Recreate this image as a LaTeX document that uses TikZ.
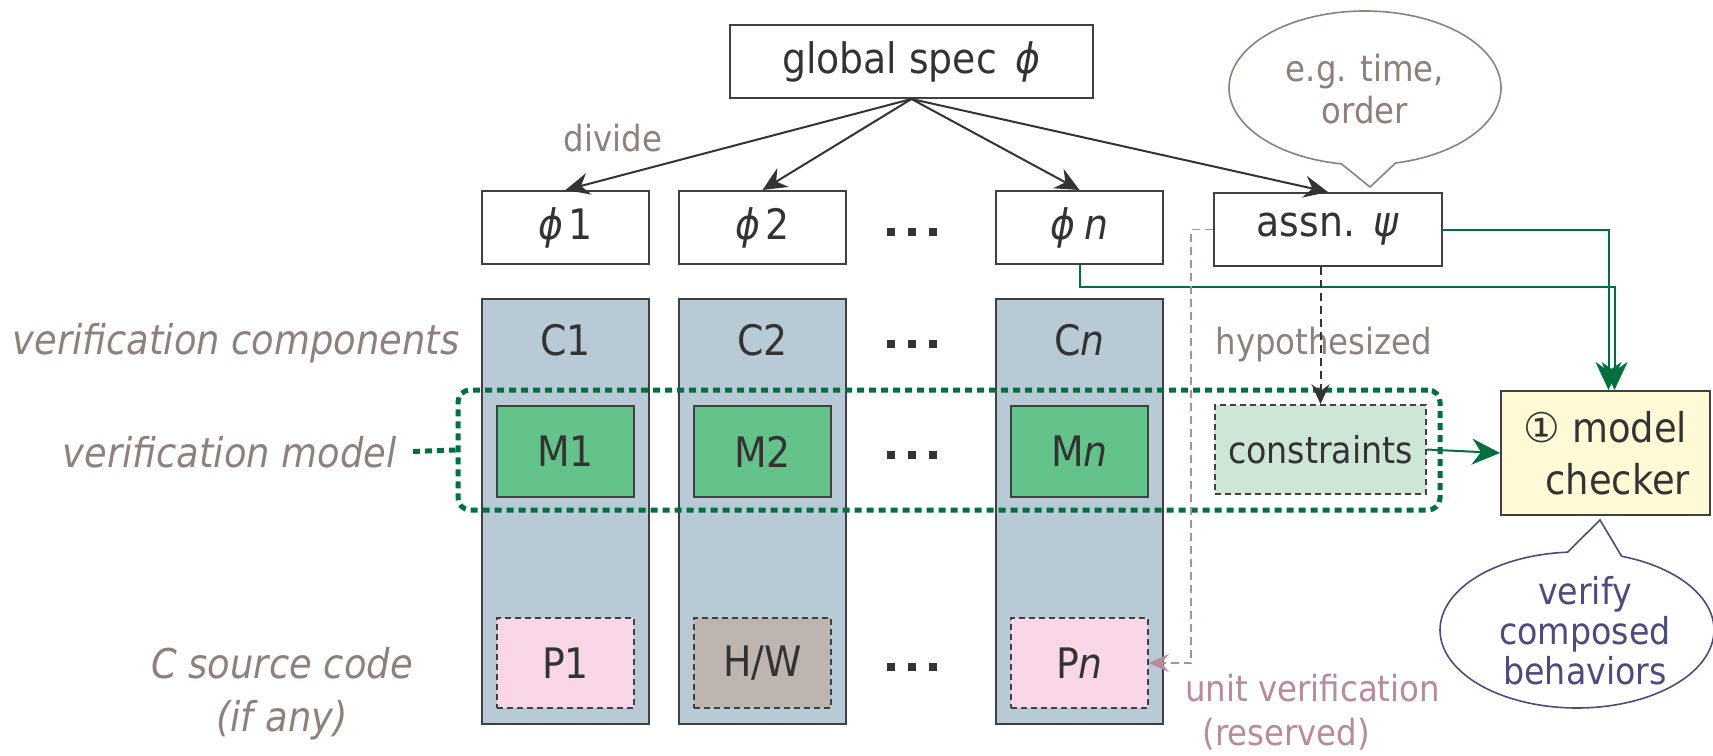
\documentclass[tikz,border=0pt]{standalone}
\usepackage{fontspec}
\setmainfont{DejaVu Sans Condensed}
\newfontfamily\symfont{DejaVu Sans}
\usetikzlibrary{arrows.meta,calc}
\definecolor{boxc}{HTML}{404040}
\definecolor{txtc}{HTML}{333333}
\definecolor{colc}{HTML}{B8CAD5}
\definecolor{mfill}{HTML}{64C28B}
\definecolor{pfill}{HTML}{FAD7E8}
\definecolor{hwfill}{HTML}{BEB5B1}
\definecolor{consfill}{HTML}{CDE6D5}
\definecolor{checkfill}{HTML}{FFFAD5}
\definecolor{dgreen}{HTML}{006E3F}
\definecolor{gbrown}{HTML}{8E807B}
\definecolor{mauve}{HTML}{B88A9B}
\definecolor{purp}{HTML}{4F4A7C}
\begin{document}
\begin{tikzpicture}[x=0.5pt,y=-0.5pt,
 box/.style={draw=boxc, line width=1pt, inner sep=0pt, text=txtc, font=\fontsize{21}{25}\selectfont},
 specbox/.style={box, fill=white, minimum width=83.5pt, minimum height=36.5pt},
 colbox/.style={draw=boxc, line width=1pt, fill=colc, minimum width=83.5pt, minimum height=212.5pt, inner sep=0pt},
 mbox/.style={box, fill=mfill, minimum width=68.5pt, minimum height=45.5pt},
 pbox/.style={box, line width=0.8pt, dash pattern=on 3pt off 2pt, minimum width=68.5pt, minimum height=45pt},
 clabel/.style={inner sep=0pt, text=txtc, font=\fontsize{21}{25}\selectfont},
 sidelbl/.style={inner sep=0pt, text=gbrown, font=\fontsize{20.5}{26.5}\selectfont\itshape},
 note/.style={inner sep=0pt, text=gbrown, font=\fontsize{18}{21}\selectfont},
 blk/.style={draw=txtc, line width=1pt, -{Stealth[length=12pt,width=11pt,inset=4pt]}},
 garr/.style={draw=dgreen, line width=1pt, -{Stealth[length=14pt,width=13pt,inset=4.5pt]}},
 vmdot/.style={draw=dgreen, line width=2.5pt, dash pattern=on 3.5pt off 2.5pt},
 dotsq/.style={fill=txtc}
]
\useasboundingbox (0,0) rectangle (1713,755);

% top spec
\node[box, fill=white, minimum width=181.5pt, minimum height=36.5pt] (global) at (911.5,61.5) {global spec\hspace{0.45em}\textit{ϕ}};

% phi row
\node[specbox] (phi1) at (565.5,227.5) {\textit{ϕ}\hspace{0.1em}1};
\node[specbox] (phi2) at (762.5,227.5) {\textit{ϕ}\hspace{0.1em}2};
\node[specbox] (phin) at (1079.5,227.5) {\textit{ϕ}\hspace{0.2em}\textit{n}};
\node[box, fill=white, minimum width=114pt, minimum height=36.5pt] (assn) at (1328,229.5) {assn.\hspace{0.45em}\textit{ψ}};

% columns
\node[colbox] (c1) at (565.5,511.5) {};
\node[colbox] (c2) at (762.5,511.5) {};
\node[colbox] (cn) at (1079.5,511.5) {};
\node[clabel] (c1l) at (565.5,340) {C1};
\node[clabel] (c2l) at (762.5,340) {C2};
\node[clabel] (cnl) at (1079.5,340) {C\textit{n}};

\node[mbox] (m1) at (565.5,451.5) {M1};
\node[mbox] (m2) at (762.5,451.5) {M2};
\node[mbox] (mn) at (1079.5,451.5) {M\textit{n}};

\node[pbox, fill=pfill] (p1) at (565.5,663) {P1};
\node[pbox, fill=hwfill] (hw) at (762.5,663) {H/W};
\node[pbox, fill=pfill] (pn) at (1079.5,663) {P\textit{n}};

\node[box, fill=consfill, line width=0.8pt, dash pattern=on 3pt off 2pt, minimum width=105.5pt, minimum height=44.5pt, font=\fontsize{18.5}{22}\selectfont] (cons) at (1320.5,449.5) {constraints};

\node[box, fill=checkfill, minimum width=104.5pt, minimum height=62pt, align=center, font=\fontsize{20.5}{26}\selectfont] (check) at (1605.5,453) {{\symfont ①} model\\\hspace*{0.6em}checker};

% dots
\foreach \yy in {232,344,455,667}
  \foreach \xx in {891,912,933}
    \fill[dotsq] (\xx-4,\yy-4) rectangle (\xx+4,\yy+4);

% verification model box
\node[vmdot, rounded corners=6pt, minimum width=491pt, minimum height=60pt, inner sep=0pt] (vmbox) at (949,450) {};

% side labels
\node[sidelbl, anchor=east] (vcomp) at (460,343) {verification components};
\node[sidelbl, anchor=east] (vmodel) at (397,452) {verification model};
\node[sidelbl, align=center] (csrc) at (282,694) {C source code\\(if any)};
\draw[vmdot, shorten <=8pt] (vmodel.east) -- (vmbox.west);

% divide arrows
\node[note] (divide) at (613,138) {divide};
\draw[blk] (global.south) -- (phi1.north);
\draw[blk] (global.south) -- (phi2.north);
\draw[blk] (global.south) -- (phin.north);
\draw[blk] (global.south) -- (assn.north);

% bubble e.g.
\draw[draw=gbrown, line width=0.8pt, fill=white] plot[domain=100:437, samples=150, smooth] ({1365+136*cos(\x)},{88+77*sin(\x)}) -- (1370,187) -- cycle;
\node[note, align=center] (eg) at (1365,89) {e.g. time,\\order};

% bubble verify
\draw[draw=purp, line width=0.8pt, fill=white] plot[domain=289:626, samples=150, smooth] ({1577+137*cos(\x)},{630+78*sin(\x)}) -- (1600,520) -- cycle;
\node[note, text=purp, align=center, font=\fontsize{18.5}{20}\selectfont] (verify) at (1585,631) {verify\\composed\\behaviors};

% green connectors
\coordinate (jn) at (1300,287);
\draw[garr] (assn.east) -| ([xshift=1.5]check.north);
\draw[garr] (phin.south) |- (jn) -| ([xshift=4.5]check.north);
\draw[garr] (cons.east) -- (check.west);

% hypothesized
\node[note] (hyp) at (1324,345) {hypothesized};
\draw[draw=txtc, line width=1pt, dash pattern=on 4pt off 2.5pt, -{Stealth[length=10pt,width=9pt,inset=3.5pt]}] (cons.north |- assn.south) -- (cons.north);

% unit verification
\coordinate (pk) at (1191,663);
\draw[draw=mauve, line width=0.75pt, dash pattern=on 4pt off 2.5pt, -{Stealth[length=10pt,width=9pt,inset=3.5pt]}] (assn.west) -| (pk) -- (pn.east);
\node[note, text=mauve, align=left, anchor=west, font=\fontsize{18}{22}\selectfont] (unit) at (1185,712) {unit verification\\\hspace*{8.5pt}(reserved)};
\end{tikzpicture}
\end{document}
